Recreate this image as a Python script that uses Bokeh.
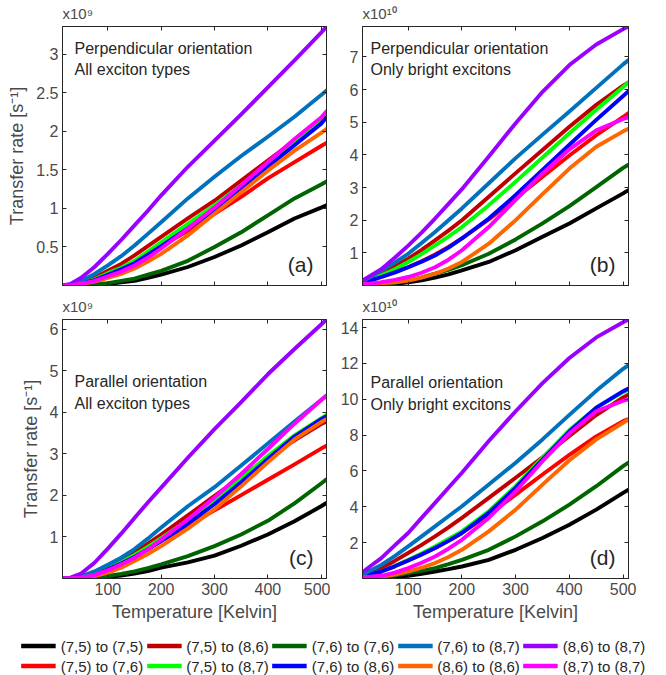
from bokeh.plotting import figure
from bokeh.models import (Range1d, FixedTicker, LinearAxis, Label, Legend,
                          LegendItem, NumeralTickFormatter, CustomLabelingPolicy)
from bokeh.layouts import column, row
from bokeh.embed import file_html
from bokeh.resources import INLINE

FONT = "Liberation Sans"

# Temperature samples [Kelvin]
TEMPS = [15, 30, 50, 75, 100, 125, 150, 175, 200, 250, 300, 350, 400, 450, 500, 510]

SERIES = ["(7,5) to (7,5)", "(7,5) to (7,6)", "(7,5) to (8,6)", "(7,5) to (8,7)",
          "(7,6) to (7,6)", "(7,6) to (8,6)", "(7,6) to (8,7)", "(8,6) to (8,6)",
          "(8,6) to (8,7)", "(8,7) to (8,7)"]
COLORS = ["#000000", "#ff0000", "#c00000", "#00ff00", "#006400",
          "#0000ff", "#0072bd", "#ff6600", "#9900ff", "#ff00ff"]

# (a) Perpendicular orientation, all exciton types  [x1e9 s^-1]
PANEL_A = [
    [0, 0, 0.005, 0.01, 0.02, 0.04, 0.06, 0.10, 0.14, 0.24, 0.37, 0.52, 0.69, 0.87, 1.01, 1.04],
    [0, 0.01, 0.03, 0.07, 0.14, 0.22, 0.30, 0.40, 0.51, 0.71, 0.93, 1.15, 1.39, 1.60, 1.81, 1.85],
    [0, 0.01, 0.04, 0.10, 0.19, 0.28, 0.39, 0.51, 0.63, 0.87, 1.10, 1.36, 1.62, 1.88, 2.13, 2.20],
    [0, 0.01, 0.03, 0.08, 0.16, 0.23, 0.32, 0.44, 0.56, 0.80, 1.04, 1.30, 1.58, 1.86, 2.13, 2.21],
    [0, 0, 0.01, 0.02, 0.03, 0.06, 0.09, 0.14, 0.19, 0.32, 0.50, 0.69, 0.91, 1.13, 1.31, 1.35],
    [0, 0.01, 0.03, 0.07, 0.14, 0.21, 0.29, 0.40, 0.51, 0.74, 0.98, 1.26, 1.54, 1.82, 2.10, 2.18],
    [0, 0.01, 0.06, 0.15, 0.26, 0.38, 0.52, 0.67, 0.82, 1.13, 1.41, 1.68, 1.93, 2.19, 2.47, 2.53],
    [0, 0.005, 0.02, 0.05, 0.10, 0.15, 0.22, 0.31, 0.41, 0.65, 0.93, 1.21, 1.49, 1.75, 1.98, 2.03],
    [0, 0.02, 0.10, 0.24, 0.41, 0.59, 0.78, 0.97, 1.17, 1.54, 1.88, 2.22, 2.57, 2.92, 3.28, 3.36],
    [0, 0.005, 0.02, 0.06, 0.12, 0.18, 0.26, 0.36, 0.48, 0.74, 1.01, 1.30, 1.60, 1.90, 2.18, 2.26],
]
# (b) Perpendicular orientation, only bright excitons  [x1e10 s^-1]
PANEL_B = [
    [0, 0.005, 0.01, 0.05, 0.10, 0.16, 0.24, 0.34, 0.46, 0.72, 1.08, 1.49, 1.90, 2.36, 2.82, 2.92],
    [0.10, 0.16, 0.26, 0.40, 0.56, 0.74, 0.95, 1.18, 1.44, 2.02, 2.67, 3.33, 3.98, 4.60, 5.16, 5.28],
    [0.10, 0.20, 0.36, 0.58, 0.82, 1.09, 1.38, 1.68, 2.00, 2.72, 3.44, 4.15, 4.86, 5.53, 6.12, 6.22],
    [0.10, 0.18, 0.31, 0.50, 0.72, 0.96, 1.23, 1.50, 1.79, 2.46, 3.18, 3.92, 4.66, 5.38, 6.08, 6.22],
    [0, 0.01, 0.03, 0.08, 0.15, 0.25, 0.36, 0.48, 0.62, 0.97, 1.41, 1.90, 2.43, 3.01, 3.60, 3.70],
    [0.10, 0.16, 0.26, 0.40, 0.56, 0.73, 0.92, 1.16, 1.44, 2.05, 2.77, 3.54, 4.31, 5.07, 5.80, 5.95],
    [0.13, 0.26, 0.46, 0.70, 0.97, 1.30, 1.64, 2.00, 2.36, 3.13, 3.90, 4.62, 5.33, 6.05, 6.77, 6.90],
    [0.03, 0.05, 0.07, 0.10, 0.15, 0.24, 0.36, 0.52, 0.72, 1.28, 2.00, 2.80, 3.58, 4.25, 4.72, 4.80],
    [0.15, 0.30, 0.50, 0.85, 1.22, 1.62, 2.05, 2.50, 2.95, 3.95, 4.97, 5.93, 6.75, 7.38, 7.85, 7.93],
    [0.04, 0.06, 0.10, 0.17, 0.26, 0.39, 0.56, 0.79, 1.08, 1.79, 2.62, 3.43, 4.17, 4.75, 5.10, 5.15],
]
# (c) Parallel orientation, all exciton types  [x1e9 s^-1]
PANEL_C = [
    [0, 0, 0.005, 0.02, 0.04, 0.07, 0.12, 0.18, 0.26, 0.39, 0.55, 0.79, 1.06, 1.38, 1.74, 1.82],
    [0, 0.01, 0.03, 0.10, 0.22, 0.37, 0.55, 0.72, 0.90, 1.27, 1.64, 2.01, 2.38, 2.75, 3.13, 3.20],
    [0, 0.01, 0.04, 0.13, 0.27, 0.44, 0.63, 0.84, 1.06, 1.52, 1.99, 2.45, 2.90, 3.33, 3.72, 3.78],
    [0, 0.01, 0.04, 0.12, 0.24, 0.39, 0.57, 0.76, 0.97, 1.40, 1.87, 2.40, 2.95, 3.45, 3.86, 3.94],
    [0, 0, 0.005, 0.02, 0.06, 0.11, 0.17, 0.25, 0.34, 0.54, 0.78, 1.06, 1.39, 1.81, 2.29, 2.39],
    [0, 0.01, 0.03, 0.10, 0.22, 0.36, 0.52, 0.70, 0.90, 1.32, 1.79, 2.32, 2.88, 3.42, 3.84, 3.91],
    [0, 0.01, 0.05, 0.17, 0.33, 0.50, 0.71, 0.96, 1.23, 1.74, 2.20, 2.72, 3.25, 3.78, 4.30, 4.41],
    [0, 0.005, 0.02, 0.06, 0.14, 0.26, 0.42, 0.59, 0.78, 1.20, 1.67, 2.22, 2.80, 3.35, 3.77, 3.84],
    [0, 0.02, 0.12, 0.38, 0.72, 1.08, 1.46, 1.83, 2.19, 2.91, 3.60, 4.25, 4.92, 5.53, 6.12, 6.24],
    [0, 0.005, 0.02, 0.08, 0.20, 0.34, 0.50, 0.70, 0.94, 1.42, 1.95, 2.52, 3.12, 3.73, 4.30, 4.40],
]
# (d) Parallel orientation, only bright excitons  [x1e10 s^-1]
PANEL_D = [
    [0.02, 0.03, 0.04, 0.09, 0.15, 0.26, 0.39, 0.52, 0.67, 1.04, 1.60, 2.26, 3.00, 3.84, 4.78, 4.95],
    [0.15, 0.25, 0.39, 0.68, 1.00, 1.34, 1.70, 2.10, 2.54, 3.56, 4.68, 5.80, 6.90, 7.93, 8.78, 8.90],
    [0.15, 0.35, 0.58, 0.98, 1.42, 1.88, 2.35, 2.85, 3.38, 4.50, 5.62, 6.76, 7.95, 9.12, 10.10, 10.26],
    [0.15, 0.25, 0.39, 0.70, 1.04, 1.40, 1.79, 2.20, 2.63, 3.75, 5.15, 6.74, 8.28, 9.53, 10.40, 10.52],
    [0.03, 0.05, 0.07, 0.16, 0.30, 0.43, 0.58, 0.80, 1.04, 1.60, 2.35, 3.19, 4.12, 5.15, 6.27, 6.47],
    [0.15, 0.25, 0.39, 0.68, 1.00, 1.34, 1.70, 2.10, 2.54, 3.66, 5.06, 6.64, 8.20, 9.53, 10.45, 10.60],
    [0.20, 0.45, 0.76, 1.25, 1.79, 2.35, 2.91, 3.47, 4.03, 5.24, 6.46, 7.76, 9.13, 10.47, 11.70, 11.90],
    [0.05, 0.08, 0.11, 0.22, 0.39, 0.60, 0.86, 1.20, 1.60, 2.63, 3.84, 5.24, 6.60, 7.76, 8.69, 8.87],
    [0.35, 0.70, 1.14, 1.85, 2.54, 3.38, 4.22, 5.06, 5.90, 7.67, 9.33, 10.90, 12.30, 13.45, 14.30, 14.45],
    [0.05, 0.10, 0.15, 0.33, 0.58, 0.88, 1.23, 1.66, 2.16, 3.38, 4.87, 6.55, 8.10, 9.33, 9.92, 10.00],
]

X_TICKS = [100, 200, 300, 400, 500]
Y_TICKS_A = [0.5, 1, 1.5, 2, 2.5, 3]
Y_TICKS_B = [1, 2, 3, 4, 5, 6, 7]
Y_TICKS_C = [1, 2, 3, 4, 5, 6]
Y_TICKS_D = [2, 4, 6, 8, 10, 12, 14]

AX_COLOR = "#262626"
LBL_COLOR = "#4a4a4a"

HIDE_ALL = "for (const i of Array.from(indices)) indices.unset(i); return indices"


def style_axis(ax, ticks, show_labels):
    ax.ticker = FixedTicker(ticks=ticks)
    ax.formatter = NumeralTickFormatter(format="0.[0]")
    ax.major_tick_in = 4
    ax.major_tick_out = 0
    ax.minor_tick_line_color = None
    ax.axis_line_color = AX_COLOR
    ax.major_tick_line_color = AX_COLOR
    ax.major_label_text_font = FONT
    ax.major_label_text_font_size = "16px"
    ax.major_label_text_color = LBL_COLOR
    ax.major_label_standoff = 4
    ax.axis_label_text_font = FONT
    ax.axis_label_text_font_size = "18px"
    ax.axis_label_text_font_style = "normal"
    ax.axis_label_text_color = LBL_COLOR
    if not show_labels:
        ax.major_label_policy = CustomLabelingPolicy(code=HIDE_ALL)
        ax.major_label_text_font_size = "1px"
        ax.major_label_standoff = 0


def make_panel(vals, exp_text, line1, line2, tag, yticks, xlabels, ylabel,
               width, height, bl, br, bt, bb, text_dx, text_dy, line_gap):
    ymax = max(max(v) for v in vals)
    x0, x1 = TEMPS[0], TEMPS[-1]
    p = figure(width=width, height=height, x_range=Range1d(x0, x1),
               y_range=Range1d(0, ymax), output_backend="svg",
               toolbar_location=None, min_border_left=bl, min_border_right=br,
               min_border_top=bt, min_border_bottom=bb,
               background_fill_color="white", border_fill_color="white")
    p.outline_line_color = AX_COLOR
    p.xgrid.visible = False
    p.ygrid.visible = False
    p.title.text = exp_text
    p.title.align = "left"
    p.title.text_font = FONT
    p.title.text_font_size = "15px"
    p.title.text_font_style = "normal"
    p.title.text_color = LBL_COLOR
    p.title.standoff = 2
    p.title.offset = 0

    style_axis(p.xaxis[0], X_TICKS, xlabels)
    style_axis(p.yaxis[0], yticks, True)
    if xlabels:
        p.xaxis[0].axis_label = "Temperature [Kelvin]"
        p.xaxis[0].axis_label_standoff = 4
    if ylabel:
        p.yaxis[0].axis_label = "Transfer rate [s\u207b\u00b9]"
        p.yaxis[0].axis_label_standoff = 6
    top_ax = LinearAxis()
    style_axis(top_ax, X_TICKS, False)
    p.add_layout(top_ax, "above")
    right_ax = LinearAxis()
    style_axis(right_ax, yticks, False)
    p.add_layout(right_ax, "right")

    for v, c in zip(vals, COLORS):
        p.line(TEMPS, v, line_color=c, line_width=3.9, line_cap="round",
               line_join="round")

    fw = width - bl - br
    fh = height - bt - bb
    kx = (x1 - x0) / fw
    ky = ymax / fh
    for i, t in enumerate([line1, line2]):
        p.add_layout(Label(x=x0 + text_dx * kx,
                           y=ymax - (text_dy + i * line_gap) * ky,
                           text=t, text_font=FONT, text_font_size="16px",
                           text_color="#262626", text_baseline="top",
                           text_align="left"))
    p.add_layout(Label(x=x1 - 13 * kx, y=10 * ky, text=tag, text_font=FONT,
                       text_font_size="21px", text_color="#262626",
                       text_baseline="bottom", text_align="right"))
    return p


pa = make_panel(PANEL_A, "x10\u2079", "Perpendicular orientation",
                "All exciton types", "(a)", Y_TICKS_A, False, True,
                330, 293, 62, 4, 26, 8, 12, 13, 21)
pb = make_panel(PANEL_B, "x10\u00b9\u2070", "Perpendicular orientation",
                "Only bright excitons", "(b)", Y_TICKS_B, False, False,
                336, 293, 32, 38, 26, 8, 8, 13, 21)
pc = make_panel(PANEL_C, "x10\u2079", "Parallel orientation",
                "All exciton types", "(c)", Y_TICKS_C, True, True,
                330, 335, 62, 4, 26, 50, 12, 53, 22)
pd = make_panel(PANEL_D, "x10\u00b9\u2070", "Parallel orientation",
                "Only bright excitons", "(d)", Y_TICKS_D, True, False,
                336, 335, 32, 38, 26, 50, 8, 54, 22)

# Legend strip (lines kept outside the visible range; only the legend shows)
leg = figure(width=666, height=47, x_range=Range1d(1000, 1001),
             y_range=Range1d(1000, 1001), x_axis_type=None, y_axis_type=None,
             output_backend="svg", toolbar_location=None, min_border=0,
             min_border_top=8, outline_line_color=None)
leg.xgrid.visible = False
leg.ygrid.visible = False
rends = [leg.line(TEMPS, v, line_color=c, line_width=4.5)
         for v, c in zip(PANEL_A, COLORS)]
LEGEND_ORDER = [0, 2, 4, 6, 8, 1, 3, 5, 7, 9]
items = [LegendItem(label=SERIES[i], renderers=[rends[i]]) for i in LEGEND_ORDER]
legend = Legend(items=items, orientation="horizontal", ncols=5,
                location="center", label_text_font=FONT,
                label_text_font_size="15px", label_text_color="#262626",
                glyph_width=35, glyph_height=16, label_height=16,
                label_standoff=5, spacing=3, padding=0, margin=0,
                border_line_color=None, background_fill_alpha=0)
leg.add_layout(legend, "center")

layout = column(row(pa, pb), row(pc, pd), leg)
open("out.html", "w").write(file_html(layout, INLINE))
